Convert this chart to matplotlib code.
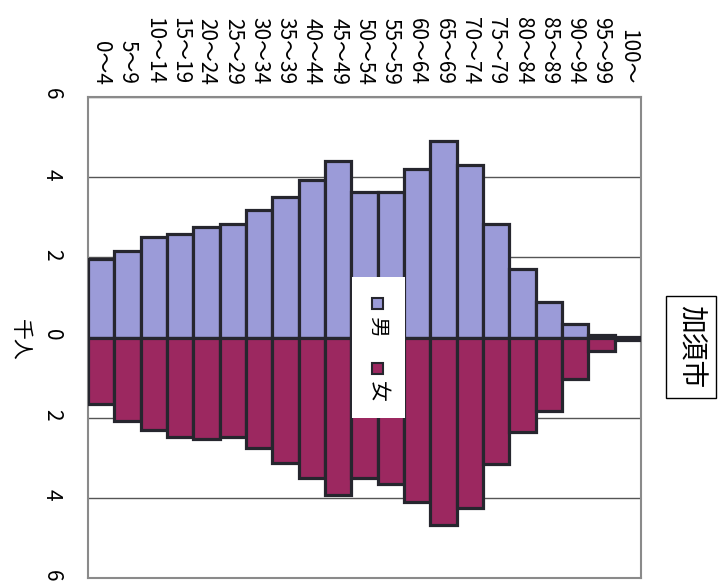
import matplotlib.pyplot as plt
import numpy as np
from matplotlib.patches import Rectangle

plt.rcParams['font.family'] = ['Noto Sans CJK JP', 'DejaVu Sans']

# 年齢階級
ages = ['0～4', '5～9', '10～14', '15～19', '20～24', '25～29', '30～34',
        '35～39', '40～44', '45～49', '50～54', '55～59', '60～64', '65～69',
        '70～74', '75～79', '80～84', '85～89', '90～94', '95～99', '100～']

# 人口（千人）
male = [1.96, 2.17, 2.51, 2.57, 2.76, 2.82, 3.19, 3.50, 3.93, 4.41, 3.64,
        3.64, 4.20, 4.89, 4.31, 2.84, 1.71, 0.89, 0.33, 0.07, 0.02]
female = [1.67, 2.09, 2.30, 2.47, 2.54, 2.47, 2.76, 3.13, 3.50, 3.94, 3.50,
          3.66, 4.10, 4.67, 4.25, 3.16, 2.37, 1.83, 1.04, 0.33, 0.06]

value_ticks = [-6, -4, -2, 0, 2, 4, 6]
value_labels = ['6', '4', '2', '0', '2', '4', '6']

male_color = '#9b9bd8'
female_color = '#9c2860'
edge = '#26262e'

W, H = 723, 588
fig = plt.figure(figsize=(W / 100, H / 100), dpi=100)
ax = fig.add_axes([88 / W, 1 - 578 / H, 553 / W, 481 / H])

x = np.arange(len(ages))
ax.bar(x, male, width=1.0, color=male_color, edgecolor=edge, linewidth=2.3, zorder=3)
ax.bar(x, -np.array(female), width=1.0, color=female_color, edgecolor=edge,
       linewidth=2.3, zorder=3)

ax.set_xlim(-0.5, len(ages) - 0.5)
ax.set_ylim(-6, 6)

# 目盛（90度回転した図）
ax.set_yticks(value_ticks)
ax.set_yticklabels(value_labels, rotation=-90, fontsize=15)
ax.xaxis.tick_top()
ax.set_xticks(x)
ax.set_xticklabels(ages, rotation=-90, fontsize=15)
ax.tick_params(axis='y', length=0, pad=18)
ax.tick_params(axis='x', length=0, pad=9)

ax.set_axisbelow(True)
ax.yaxis.grid(True, color='#555555', linewidth=1.0)
for s in ax.spines.values():
    s.set_color('#8a8a8a')
    s.set_linewidth(1.5)

# 凡例
ax.add_patch(Rectangle((0.477, 0.333), 0.096, 0.293, transform=ax.transAxes,
                       facecolor='white', edgecolor='none', zorder=5))
mw, mh = 11 / 553, 11 / 481
for yc, col, lab, ty in [(0.570, male_color, '男', 0.522),
                         (0.436, female_color, '女', 0.387)]:
    ax.add_patch(Rectangle((0.5235 - mw / 2, yc - mh / 2), mw, mh,
                           transform=ax.transAxes, facecolor=col,
                           edgecolor=edge, linewidth=1.5, zorder=6))
    ax.text(0.5235, ty, lab, transform=ax.transAxes, rotation=-90,
            fontsize=15, ha='center', va='center', zorder=6)

# 単位・タイトル
fig.text(20 / W, 1 - 340 / H, '千人', rotation=-90, fontsize=15,
         ha='center', va='center')
fig.text(691 / W, 1 - 347 / H, '加須市', rotation=-90, fontsize=20,
         ha='center', va='center',
         bbox=dict(boxstyle='square,pad=0.35', facecolor='white',
                   edgecolor='black', linewidth=1))

fig.savefig('out.png', dpi=100)
